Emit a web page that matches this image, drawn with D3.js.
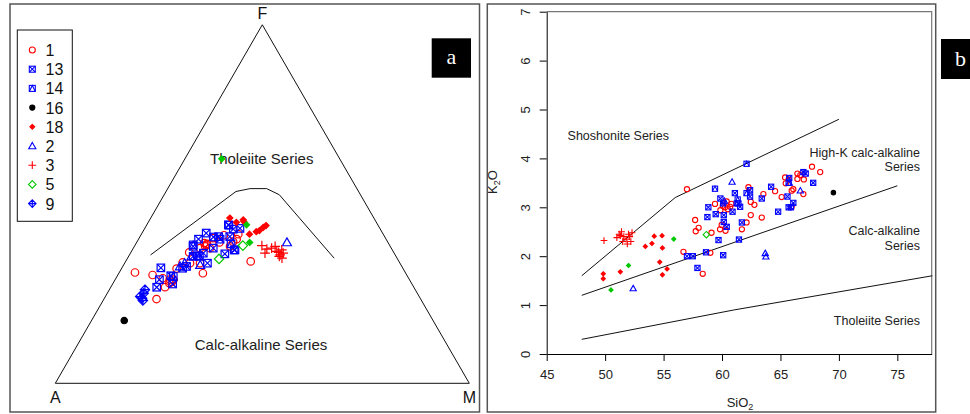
<!DOCTYPE html>
<html>
<head>
<meta charset="utf-8">
<script src="https://cdn.jsdelivr.net/npm/d3@7"></script>
<style>
  body { margin: 0; background: #fff; }
  svg { font-family: "Liberation Sans", Arial, sans-serif; }
</style>
</head>
<body>
<svg id="chart" width="970" height="414"></svg>
<script>
// ---- AFM data, [A, F, M] in % ----
const afm1 = [[65.3,30.9,3.8],[61.4,30.2,8.4],[63.8,23.5,12.7],[60.1,26.8,13.1],[59.4,29.3,11.3],
  [54.7,32.0,13.3],[52.4,33.7,13.9],[49.4,36.5,14.1],[49.0,30.7,20.3],[46.2,37.7,16.1],
  [44.5,39.1,16.4],[43.8,37.7,18.5],[40.7,39.3,20.0],[38.6,41.3,20.1],[35.0,41.6,23.4],
  [37.3,39.5,23.2],[35.8,34.0,30.2],[38.7,38.2,23.1],[57.0,28.9,14.1],[58.5,27.9,13.6],
  [50.7,33.5,15.8],[48.3,33.5,18.2],[41.6,40.5,17.9],[36.1,40.2,23.7],[44.7,38.2,17.1],
  [43.9,38.9,17.2],[57.9,28.9,13.2],[57.7,28.3,14.0],[44.2,38.6,17.2]];
const afm13 = [[58.4,32.2,9.4],[62.1,26.8,11.1],[57.1,30.0,12.9],[57.8,27.7,14.5],[47.6,38.2,14.2],
  [47.9,35.6,16.5],[42.6,41.9,15.5],[45.3,40.2,14.5],[41.4,40.8,17.8],[40.1,40.2,19.7],
  [36.0,44.1,19.9],[35.5,43.0,21.5],[33.8,43.2,23.0],[38.2,37.2,24.6],[41.0,36.1,22.9],
  [46.5,33.5,20.0],[52.0,32.6,15.4],[53.2,32.1,14.7],[43.0,37.7,19.3],[46.1,36.3,17.6],
  [37.4,40.9,21.7],[49.0,35.4,15.6],[60.4,28.9,10.7],[40.1,40.9,19.0],[38.0,37.2,24.8],
  [36.1,44.2,19.7]];
const afm14 = [[47.4,38.6,14.0],[47.5,35.4,17.1],[38.1,38.9,23.0],[56.6,29.8,13.6]];
const afm16 = [[74.6,17.5,7.9]];
const afm18 = [[34.8,46.1,19.1],[33.8,44.9,21.3],[31.8,45.6,22.6],[31.9,45.1,23.0],[32.3,41.6,26.1],
  [30.3,42.3,27.4],[29.4,42.6,28.0],[28.0,43.5,28.5],[27.1,44.0,28.9]];
const afm2 = [[24.4,39.3,36.3],[52.0,33.5,14.5],[48.5,33.0,18.5],[49.4,35.4,15.2],[53.6,32.6,13.8]];
const afm3 = [[30.9,38.4,30.7],[30.2,37.4,32.4],[31.2,36.3,32.5],[28.9,37.7,33.4],[27.8,36.5,35.7],
  [27.8,35.8,36.4],[26.7,37.2,36.1],[28.1,36.8,35.1],[27.8,34.9,37.3],[26.8,36.3,36.9],
  [28.2,35.4,36.4],[27.8,38.2,34.0]];
const afm5 = [[35.5,38.4,26.1],[43.1,34.7,22.2]];
const afm9 = [[66.1,25.1,8.8],[67.2,23.7,9.1],[65.3,26.1,8.6],[67.4,24.2,8.4],[67.3,23.1,9.6]];
const afmG = [[28.5,62.6,8.9],[31.7,44.2,24.1],[33.4,39.3,27.3]];
// Tholeiite / calc-alkaline boundary
const afmLine = [[59.1,35.8,5.1],[29.6,53.5,16.9],[25.8,54.3,19.9],[21.8,54.3,23.9],[19.6,52.6,27.8],[15.2,34.9,49.9]];

// ---- SiO2 vs K2O data, [SiO2, K2O] ----
const k1 = [[57.0,3.37],[57.7,2.74],[57.75,2.51],[58.0,2.58],[56.7,2.09],[58.35,1.64],[59.0,2.07],
  [59.1,2.48],[59.4,3.07],[59.83,2.55],[59.97,2.64],[59.86,2.94],[60.06,3.03],[60.26,3.0],
  [60.3,2.52],[60.5,2.96],[60.7,3.01],[60.8,3.07],[60.4,3.12],[61.7,2.55],[62.1,2.69],
  [62.26,3.41],[62.46,3.11],[62.46,2.84],[62.77,3.05],[63.4,2.79],[63.54,3.27],[64.54,3.33],
  [65.1,3.21],[65.4,3.61],[65.45,3.49],[65.7,3.57],[65.96,3.34],[66.1,3.37],[66.45,3.69],
  [66.45,3.58],[66.7,3.66],[66.96,3.27],[67.0,3.57],[67.7,3.83],[68.4,3.72],[65.96,3.01]];
const k13 = [[57.0,2.0],[57.5,2.0],[58.63,2.08],[57.9,1.76],[60.1,2.02],[59.7,2.33],[58.83,3.0],
  [58.75,2.8],[59.46,2.86],[59.86,3.18],[60.1,3.08],[60.15,2.84],[60.15,2.7],[60.4,2.6],
  [60.9,2.91],[61.1,3.29],[61.4,3.08],[61.55,3.01],[61.7,2.69],[61.45,2.34],[62.4,3.35],
  [62.4,3.22],[63.4,3.18],[64.2,3.42],[64.8,2.91],[65.6,3.22],[65.7,3.0],[65.9,3.0],
  [66.1,3.09],[66.96,3.72],[67.16,3.69],[67.8,3.5],[65.75,3.6]];
const k14 = [[62.1,3.89],[59.4,3.38],[61.26,3.08],[61.34,3.16],[62.1,3.29],[65.7,3.5]];
const k16 = [[69.53,3.30]];
const k18 = [[49.84,1.64],[49.84,1.54],[51.3,1.68],[53.44,2.20],[54.0,2.26],[54.2,2.41],
  [54.87,2.42],[54.9,2.17],[54.67,1.88],[55.3,1.74],[54.9,1.62]];
const k2 = [[60.86,3.52],[63.7,2.06],[63.75,1.99],[52.4,1.34],[66.7,3.34],[65.76,3.5],[60.2,3.13]];
const k3 = [[51.0,2.38],[51.2,2.45],[51.4,2.5],[51.5,2.3],[51.6,2.4],[51.8,2.35],[52.0,2.45],
  [52.1,2.4],[52.2,2.3],[51.9,2.25],[51.3,2.42],[52.3,2.48],[49.9,2.32]];
const k5 = [[58.66,2.44]];
const kG = [[55.87,2.35],[52.0,1.81],[50.5,1.31]];
const kLines = [
  [[48,1.6],[56,3.2],[70,4.8]],
  [[48,1.2],[75,3.44]],
  [[48,0.3],[61,0.9],[78,1.6]]
];
const xTicks = [45, 50, 55, 60, 65, 70, 75];
const yTicks = [0, 1, 2, 3, 4, 5, 6, 7];

const legendKeys = ['1', '13', '14', '16', '18', '2', '3', '5', '9'];

const red = '#ff0000', blue = '#0000ff', green = '#00c800';
const style = {
  '1': { sym: 'circle', color: red },
  '13': { sym: 'sqx', color: blue },
  '14': { sym: 'sqt', color: blue },
  '16': { sym: 'dot', color: '#000' },
  '18': { sym: 'fdiam', color: red },
  '2': { sym: 'tri', color: blue },
  '3': { sym: 'plus', color: red },
  '5': { sym: 'diam', color: green },
  '9': { sym: 'dplus', color: blue },
  'g': { sym: 'fdiam', color: green }
};

const svg = d3.select('#chart');

// draw one symbol centred at x,y, size s
function symbol(g, key, x, y, s, sw) {
  const st = style[key];
  const h = s / 2;
  const c = st.color;
  const p = g.append('g').attr('transform', 'translate(' + x + ',' + y + ')')
    .attr('fill', 'none').attr('stroke', c).attr('stroke-width', sw || 1);
  if (st.sym === 'circle') {
    p.append('circle').attr('r', h);
  } else if (st.sym === 'sqx') {
    p.append('rect').attr('x', -h).attr('y', -h).attr('width', s).attr('height', s);
    p.append('path').attr('d', `M${-h},${-h}L${h},${h}M${-h},${h}L${h},${-h}`);
  } else if (st.sym === 'sqt') {
    p.append('rect').attr('x', -h).attr('y', -h).attr('width', s).attr('height', s);
    p.append('path').attr('d', `M${-h},${h}L0,${-h}L${h},${h}`);
  } else if (st.sym === 'dot') {
    p.append('circle').attr('r', h * 0.85).attr('fill', c);
  } else if (st.sym === 'fdiam') {
    const d = h * 0.8;
    p.append('path').attr('d', `M0,${-d}L${d},0L0,${d}L${-d},0Z`).attr('fill', c);
  } else if (st.sym === 'tri') {
    const t = h * 1.2;
    p.append('path').attr('d', `M0,${-t}L${t},${t * 0.75}L${-t},${t * 0.75}Z`);
  } else if (st.sym === 'plus') {
    const t = h * 1.3;
    p.append('path').attr('d', `M${-t},0L${t},0M0,${-t}L0,${t}`);
  } else if (st.sym === 'diam') {
    const t = h * 1.25;
    p.append('path').attr('d', `M0,${-t}L${t},0L0,${t}L${-t},0Z`);
  } else if (st.sym === 'dplus') {
    const t = h * 1.25;
    p.append('path').attr('d', `M0,${-t}L${t},0L0,${t}L${-t},0ZM${-t},0L${t},0M0,${-t}L0,${t}`);
  }
}

// ================= panel a : AFM =================
svg.append('rect').attr('x', 10).attr('y', 4).attr('width', 469.5).attr('height', 408)
  .attr('fill', 'none').attr('stroke', '#555').attr('stroke-width', 1.5);

const gA = svg.append('g');
const base = { x: 55.3, y: 383.3 };
const side = 414;
const tx = d3.scaleLinear().domain([0, 100]).range([base.x, base.x + side]);
const ty = d3.scaleLinear().domain([0, 100]).range([base.y, base.y - side * Math.sqrt(3) / 2]);
const proj = d => {
  const sum = d[0] + d[1] + d[2];
  const f = d[1] / sum * 100, m = d[2] / sum * 100;
  return [tx(m + f / 2), ty(f)];
};

gA.append('path')
  .attr('d', d3.line()([proj([100, 0, 0]), proj([0, 100, 0]), proj([0, 0, 100])]) + 'Z')
  .attr('fill', 'none').attr('stroke', '#111').attr('stroke-width', 1);
gA.append('path').attr('d', d3.line()(afmLine.map(proj)))
  .attr('fill', 'none').attr('stroke', '#111').attr('stroke-width', 1);

const vtx = [['F', proj([0, 100, 0]), -6], ['A', proj([100, 0, 0]), 20], ['M', proj([0, 0, 100]), 20]];
vtx.forEach(v => {
  gA.append('text').attr('x', v[1][0]).attr('y', v[1][1] + v[2]).attr('text-anchor', 'middle')
    .attr('font-size', 16).attr('fill', '#111').text(v[0]);
});
gA.append('text').attr('x', 261.7).attr('y', 163.5).attr('text-anchor', 'middle')
  .attr('font-size', 15).attr('fill', '#222').text('Tholeiite Series');
gA.append('text').attr('x', 261).attr('y', 349.5).attr('text-anchor', 'middle')
  .attr('font-size', 15).attr('fill', '#222').text('Calc-alkaline Series');

const afmSets = [['1', afm1], ['13', afm13], ['14', afm14], ['9', afm9], ['2', afm2],
  ['5', afm5], ['18', afm18], ['g', afmG], ['3', afm3], ['16', afm16]];
afmSets.forEach(([k, arr]) => {
  arr.forEach(d => { const p = proj(d); symbol(gA, k, p[0], p[1], 7.5, 1.2); });
});

// legend
const leg = gA.append('g');
leg.append('rect').attr('x', 17.3).attr('y', 30).attr('width', 55).attr('height', 191.3)
  .attr('fill', '#fff').attr('stroke', '#111').attr('stroke-width', 1);
legendKeys.forEach((k, i) => {
  const y = 50 + i * 19.2;
  symbol(leg, k, 32.3, y, 6, 1.1);
  leg.append('text').attr('x', 45.5).attr('y', y + 6).attr('font-size', 16)
    .attr('fill', '#111').text(k);
});

// panel label a
gA.append('rect').attr('x', 431.7).attr('y', 38.3).attr('width', 39.3).attr('height', 39.4).attr('fill', '#000');
gA.append('text').attr('x', 451.3).attr('y', 64).attr('text-anchor', 'middle')
  .attr('font-family', '"Liberation Serif", "Times New Roman", serif').attr('font-size', 22)
  .attr('fill', '#fff').text('a');

// ================= panel b : K2O vs SiO2 =================
svg.append('rect').attr('x', 487.3).attr('y', 4).attr('width', 448.4).attr('height', 408)
  .attr('fill', 'none').attr('stroke', '#555').attr('stroke-width', 1.5);

const gB = svg.append('g');
const x = d3.scaleLinear().domain([45, 77.94]).range([546.7, 931.7]);
const y = d3.scaleLinear().domain([0, 7]).range([354, 11.7]);

gB.append('path').attr('d', `M${x(45)},${y(7)}H${x(77.94)}V${y(0)}`)
  .attr('fill', 'none').attr('stroke', '#777').attr('stroke-width', 1.2);

const xAxis = gB.append('g').attr('transform', `translate(0,${y(0)})`)
  .call(d3.axisBottom(x).tickValues(xTicks).tickSize(7).tickSizeOuter(0).tickPadding(9)
    .tickFormat(d3.format('d')));
const yAxis = gB.append('g').attr('transform', `translate(${x(45)},0)`)
  .call(d3.axisLeft(y).tickValues(yTicks).tickSize(7).tickSizeOuter(0)
    .tickFormat(d3.format('d')));
[xAxis, yAxis].forEach(a => {
  a.selectAll('path, line').attr('stroke', '#000');
  a.selectAll('text').attr('font-size', 13).attr('fill', '#222')
    .attr('font-family', '"Liberation Sans", Arial, sans-serif');
});
yAxis.selectAll('.tick text').attr('x', null).attr('dy', null)
  .attr('text-anchor', 'middle')
  .attr('transform', 'translate(-21,0) rotate(-90)')
  .attr('y', 0).attr('dy', '0.35em');

gB.append('text').attr('x', 740).attr('y', 407).attr('text-anchor', 'middle')
  .attr('font-size', 13).attr('fill', '#222')
  .html('SiO<tspan font-size="9" dy="3">2</tspan>');
gB.append('text').attr('transform', 'translate(497,182) rotate(-90)').attr('text-anchor', 'middle')
  .attr('font-size', 13).attr('fill', '#222')
  .html('K<tspan font-size="9" dy="3">2</tspan><tspan dy="-3">O</tspan>');

kLines.forEach(l => {
  gB.append('path').attr('d', d3.line().x(d => x(d[0])).y(d => y(d[1]))(l))
    .attr('fill', 'none').attr('stroke', '#111').attr('stroke-width', 1);
});

const lbl = (t, xx, yy, anchor) => gB.append('text').attr('x', xx).attr('y', yy)
  .attr('text-anchor', anchor).attr('font-size', 12.5).attr('fill', '#222').text(t);
lbl('Shoshonite Series', 618.3, 140, 'middle');
lbl('High-K calc-alkaline', 920, 157, 'end');
lbl('Series', 920, 171, 'end');
lbl('Calc-alkaline', 920, 235, 'end');
lbl('Series', 920, 250, 'end');
lbl('Tholeiite Series', 920, 325, 'end');

const kSets = [['1', k1], ['13', k13], ['14', k14], ['2', k2], ['5', k5],
  ['18', k18], ['g', kG], ['3', k3], ['16', k16]];
kSets.forEach(([k, arr]) => {
  arr.forEach(d => symbol(gB, k, x(d[0]), y(d[1]), 5.2, 1.1));
});

// panel label b
gB.append('rect').attr('x', 941).attr('y', 39).attr('width', 30).attr('height', 40).attr('fill', '#000');
gB.append('text').attr('x', 960.5).attr('y', 66).attr('text-anchor', 'middle')
  .attr('font-family', '"Liberation Serif", "Times New Roman", serif').attr('font-size', 22)
  .attr('fill', '#fff').text('b');
</script>
</body>
</html>
